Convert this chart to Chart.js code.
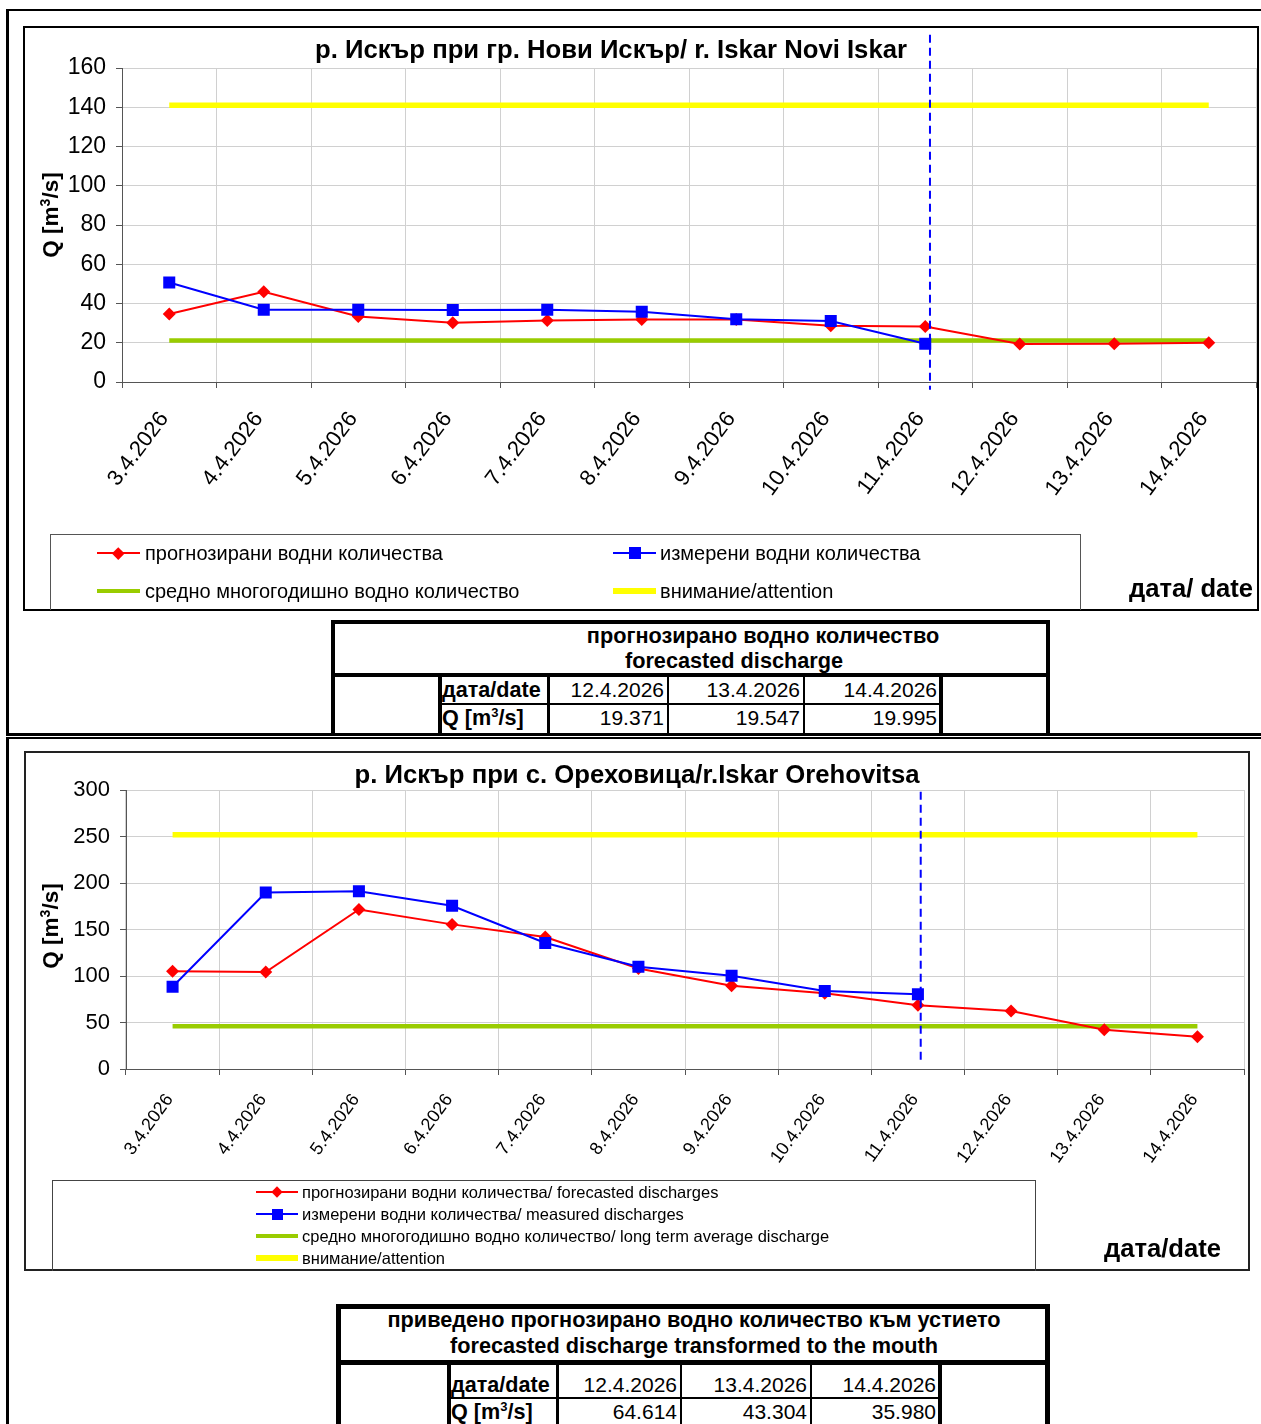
<!DOCTYPE html>
<html lang="bg">
<head>
<meta charset="utf-8">
<title>р. Искър</title>
<script src="https://cdn.jsdelivr.net/npm/chart.js@4.4.1/dist/chart.umd.min.js"></script>
<style>
  html, body { margin: 0; padding: 0; background: #fff; }
  body { width: 1261px; height: 1424px; overflow: hidden; position: relative;
         font-family: "Liberation Sans", Arial, sans-serif; color: #000; }
  .abs { position: absolute; box-sizing: border-box; }
  canvas.abs { display: block; }
  .title { font-weight: bold; font-size: 25.7px; line-height: 30px; white-space: nowrap; text-align: center; }
  .dateLbl { font-weight: bold; font-size: 25.6px; line-height: 30px; white-space: nowrap; }
  .ytitle { font-weight: bold; font-size: 22.5px; line-height: 30px; white-space: nowrap; text-align: center;
            width: 200px; height: 30px; transform: rotate(-90deg); }
  .ytitle sup { font-size: 14px; line-height: 0; }
  .cell { white-space: nowrap; font-size: 21px; line-height: 26px; }
  .hdr { font-weight: bold; font-size: 21.7px; line-height: 26px; white-space: nowrap; text-align: center; }
</style>
</head>
<body>

<!-- section frames -->
<div class="abs" style="left:6px;top:9px;width:1300px;height:727px;border-left:3px solid #000;border-top:2px solid #000;border-bottom:3px solid #000;"></div>
<div class="abs" style="left:6px;top:737px;width:1300px;height:800px;border-left:3px solid #000;border-top:2px solid #000;"></div>

<!-- top chart -->
<div class="abs" style="left:23px;top:26px;width:1236px;height:585px;border:2px solid #000;"></div>
<canvas id="chartNovi" class="abs" width="1232" height="581" style="left:25px;top:28px;width:1232px;height:581px;"></canvas>
<div class="abs title" style="left:261px;top:34px;width:700px;">р. Искър при гр. Нови Искър/ r. Iskar Novi Iskar</div>
<div class="abs ytitle" style="left:-49px;top:200px;">Q [m<sup>3</sup>/s]</div>
<div class="abs" id="legendNovi" style="left:50px;top:534px;width:1031px;height:76px;border:1px solid #555;border-bottom:none;"></div>
<div class="abs dateLbl" style="left:1129px;top:573px;">дата/ date</div>

<!-- bottom chart -->
<div class="abs" style="left:24px;top:751px;width:1226px;height:520px;border:2px solid #222;"></div>
<canvas id="chartOreh" class="abs" width="1222" height="516" style="left:26px;top:753px;width:1222px;height:516px;"></canvas>
<div class="abs title" style="left:287px;top:759px;width:700px;">р. Искър при с. Ореховица/r.Iskar Orehovitsa</div>
<div class="abs ytitle" style="left:-49px;top:911px;">Q [m<sup>3</sup>/s]</div>
<div class="abs" id="legendOreh" style="left:52px;top:1180px;width:984px;height:91px;border:1px solid #444;border-bottom:none;"></div>
<div class="abs dateLbl" style="left:1104px;top:1233px;">дата/date</div>

<script>
// ---- data ----
const dates = ['3.4.2026', '4.4.2026', '5.4.2026', '6.4.2026', '7.4.2026', '8.4.2026',
               '9.4.2026', '10.4.2026', '11.4.2026', '12.4.2026', '13.4.2026', '14.4.2026'];

// р. Искър при гр. Нови Искър
const noviForecast  = [34.6, 46.0, 33.4, 30.2, 31.4, 31.9, 31.8, 28.6, 28.3, 19.371, 19.547, 19.995];
const noviMeasured  = [50.7, 36.8, 36.8, 36.7, 36.8, 35.8, 32.0, 31.1, 19.5, null, null, null];
const noviAverage   = [21.2, 21.2, 21.2, 21.2, 21.2, 21.2, 21.2, 21.2, 21.2, 21.2, 21.2, 21.2];
const noviAttention = [141, 141, 141, 141, 141, 141, 141, 141, 141, 141, 141, 141];
const noviYMax = 160, noviYStep = 20;

// р. Искър при с. Ореховица
const orehForecast  = [105.0, 104.3, 171.5, 155.5, 142.0, 108.0, 89.5, 81.5, 68.5, 62.3, 42.2, 34.7];
const orehMeasured  = [88.5, 189.8, 191.2, 175.5, 135.5, 110.0, 100.2, 83.8, 80.3, null, null, null];
const orehAverage   = [46, 46, 46, 46, 46, 46, 46, 46, 46, 46, 46, 46];
const orehAttention = [252, 252, 252, 252, 252, 252, 252, 252, 252, 252, 252, 252];
const orehYMax = 300, orehYStep = 50;

const noviLabels = ['прогнозирани водни количества', 'измерени водни количества',
                    'средно многогодишно водно количество', 'внимание/attention'];
const orehLabels = ['прогнозирани водни количества/ forecasted discharges',
                    'измерени водни количества/ measured discharges',
                    'средно многогодишно водно количество/ long term average discharge',
                    'внимание/attention'];

// forecast tables
const tableDates = ['12.4.2026', '13.4.2026', '14.4.2026'];
const noviTableQ = [19.371, 19.547, 19.995];
const orehTableQ = [64.614, 43.304, 35.980];

// position of the "today" dashed line (category index) and its vertical extent (in y units)
const noviNow = { at: 8.05, from: 177, to: -4 };
const orehNow = { at: 8.03, from: 298, to: 10 };

// ---- charts ----
Chart.defaults.font.family = '"Liberation Sans", Arial, sans-serif';
Chart.defaults.color = '#000';

const nowLine = {
  id: 'nowLine',
  afterDatasetsDraw(chart, args, opts) {
    const x = chart.scales.x.getPixelForValue(opts.at);
    const y1 = chart.scales.y.getPixelForValue(opts.from);
    const y2 = chart.scales.y.getPixelForValue(opts.to);
    const ctx = chart.ctx;
    ctx.save();
    ctx.strokeStyle = '#0000ff';
    ctx.lineWidth = 2;
    ctx.setLineDash([8, 5]);
    ctx.beginPath();
    ctx.moveTo(x, y1);
    ctx.lineTo(x, y2);
    ctx.stroke();
    ctx.restore();
  }
};

function makeDatasets(labels, forecast, measured, average, attention, s) {
  return [
    { label: labels[0], data: forecast, borderColor: '#ff0000', backgroundColor: '#ff0000',
      borderWidth: 2, pointStyle: 'rectRot', pointRadius: s.diamond, pointBorderWidth: 0, order: 1 },
    { label: labels[1], data: measured, borderColor: '#0000ff', backgroundColor: '#0000ff',
      borderWidth: 2, pointStyle: 'rect', pointRadius: s.square, pointBorderWidth: 0, order: 0 },
    { label: labels[2], data: average, borderColor: '#99cc00', backgroundColor: '#99cc00',
      borderWidth: s.green, pointRadius: 0, order: 2 },
    { label: labels[3], data: attention, borderColor: '#ffff00', backgroundColor: '#ffff00',
      borderWidth: s.yellow, pointRadius: 0, order: 3 }
  ];
}

function makeChart(id, datasets, s) {
  return new Chart(document.getElementById(id), {
    type: 'line',
    data: { labels: dates, datasets: datasets },
    options: {
      responsive: false,
      animation: false,
      events: [],
      layout: { autoPadding: false, padding: { top: s.padTop, right: s.padRight, left: 0, bottom: 0 } },
      elements: { line: { tension: 0 } },
      plugins: {
        legend: { display: false },
        tooltip: { enabled: false },
        nowLine: s.now
      },
      scales: {
        x: {
          offset: true,
          grid: { offset: true, color: '#d0d0d0', tickColor: '#555', tickLength: 6 },
          border: { color: '#555' },
          ticks: { font: { size: s.xFont }, color: '#000', minRotation: s.rot, maxRotation: s.rot,
                   autoSkip: false, padding: s.xPad, labelOffset: s.xShift },
          afterFit: (scale) => {
            scale.height = s.xHeight;
            scale.paddingLeft = 0;
            scale.paddingRight = 0;
          }
        },
        y: {
          min: 0, max: s.yMax,
          grid: { color: '#d0d0d0', tickColor: '#555', tickLength: 6 },
          border: { color: '#555' },
          ticks: { stepSize: s.yStep, font: { size: s.yFont }, color: '#000', padding: 10 },
          afterFit: (scale) => { scale.width = s.yWidth; }
        }
      }
    },
    plugins: [nowLine]
  });
}

const noviStyle = { diamond: 6.5, square: 8.5, green: 4.5, yellow: 5.5, padTop: 40, padRight: 1,
  xFont: 22, rot: 53, xPad: 19, xShift: -5, xHeight: 227, yMax: noviYMax, yStep: noviYStep, yFont: 23,
  yWidth: 97, now: noviNow };
const orehStyle = { diamond: 6.5, square: 8.5, green: 4.5, yellow: 5.5, padTop: 37, padRight: 4,
  xFont: 18, rot: 54, xPad: 15, xShift: -3, xHeight: 200, yMax: orehYMax, yStep: orehYStep, yFont: 22,
  yWidth: 100, now: orehNow };

const noviChart = makeChart('chartNovi',
  makeDatasets(noviLabels, noviForecast, noviMeasured, noviAverage, noviAttention, noviStyle), noviStyle);
const orehChart = makeChart('chartOreh',
  makeDatasets(orehLabels, orehForecast, orehMeasured, orehAverage, orehAttention, orehStyle), orehStyle);

// ---- html legends built from the chart datasets ----
function el(parent, css, text, cls) {
  const d = document.createElement('div');
  d.className = 'abs' + (cls ? ' ' + cls : '');
  d.style.cssText += css;
  if (text !== undefined) d.textContent = text;
  parent.appendChild(d);
  return d;
}

function buildLegend(chart, places, opt) {
  const body = document.body;
  chart.data.datasets.forEach((ds, i) => {
    const p = places[i];
    const lw = ds.borderWidth;
    el(body, `left:${p.x}px;top:${p.y - lw / 2}px;width:${opt.sampleW}px;height:${lw}px;background:${ds.borderColor};`);
    if (ds.pointRadius > 0) {
      const cx = p.x + opt.sampleW / 2;
      const sz = ds.pointStyle === 'rectRot' ? opt.diamond : opt.square;
      el(body, `left:${cx - sz / 2}px;top:${p.y - sz / 2}px;width:${sz}px;height:${sz}px;background:${ds.backgroundColor};` +
        (ds.pointStyle === 'rectRot' ? 'transform:rotate(45deg);' : ''));
    }
    el(body, `left:${p.tx}px;top:${p.y - 15}px;height:30px;line-height:30px;font-size:${opt.font}px;white-space:nowrap;`, ds.label);
  });
}

buildLegend(noviChart, [
  { x: 97, y: 553, tx: 145 }, { x: 613, y: 553, tx: 660 },
  { x: 97, y: 591, tx: 145 }, { x: 613, y: 591, tx: 660 }
], { sampleW: 43, diamond: 8.5, square: 12, font: 20 });

buildLegend(orehChart, [
  { x: 256, y: 1191.5, tx: 302 }, { x: 256, y: 1214, tx: 302 },
  { x: 256, y: 1236, tx: 302 }, { x: 256, y: 1258, tx: 302 }
], { sampleW: 42, diamond: 8, square: 11, font: 16.5 });

// ---- forecast tables ----
function buildTable(L) {
  const b = document.body;
  const h = L.y3 - L.y1;
  // outer frame and header separator
  el(b, `left:${L.x0}px;top:${L.y0}px;width:${L.x1 - L.x0}px;height:${L.y3 - L.y0}px;border:${L.outer}px solid #000;` +
    (L.open ? 'border-bottom:none;' : ''));
  el(b, `left:${L.x0}px;top:${L.y1 - L.outer / 2}px;width:${L.x1 - L.x0}px;height:${L.outer}px;background:#000;`);
  L.head.forEach((hd, i) => {
    el(b, `left:${hd.cx - 350}px;top:${L.headY[i] - 13}px;width:700px;`, hd.text, 'hdr');
  });
  // inner block
  const c = L.cols;
  el(b, `left:${c[0] - 2}px;top:${L.y1}px;width:4px;height:${h}px;background:#000;`);
  el(b, `left:${c[4] - 2}px;top:${L.y1}px;width:4px;height:${h}px;background:#000;`);
  for (let k = 1; k < 4; k++) {
    el(b, `left:${c[k] - 1}px;top:${L.y1}px;width:${k === 1 ? 3 : 2}px;height:${h}px;background:#000;`);
  }
  el(b, `left:${c[0]}px;top:${L.y2 - 1}px;width:${c[4] - c[0]}px;height:2px;background:#000;`);
  el(b, `left:${c[0] + 2}px;top:${L.r1 - 13}px;font-weight:bold;font-size:21.6px;`, 'дата/date', 'cell');
  const q = el(b, `left:${c[0] + 2}px;top:${L.r2 - 13}px;font-weight:bold;font-size:21.6px;`, 'Q [m', 'cell');
  const sup = document.createElement('sup');
  sup.textContent = '3';
  sup.style.cssText = 'font-size:13px;line-height:0;';
  q.appendChild(sup);
  q.appendChild(document.createTextNode('/s]'));
  tableDates.forEach((d, i) => {
    el(b, `left:${c[i + 1]}px;top:${L.r1 - 13}px;width:${c[i + 2] - c[i + 1] - 4}px;text-align:right;`, d, 'cell');
    el(b, `left:${c[i + 1]}px;top:${L.r2 - 13}px;width:${c[i + 2] - c[i + 1] - 4}px;text-align:right;`,
      L.values[i].toFixed(3), 'cell');
  });
}

buildTable({
  x0: 331, x1: 1050, y0: 620, y1: 675, y2: 704, y3: 735, outer: 4, open: true,
  head: [{ text: 'прогнозирано водно количество', cx: 763 }, { text: 'forecasted discharge', cx: 734 }],
  headY: [636, 661],
  cols: [440, 548, 668, 804, 941], r1: 690, r2: 718,
  values: noviTableQ
});

buildTable({
  x0: 336, x1: 1050, y0: 1304, y1: 1362, y2: 1398, y3: 1440, outer: 5, open: true,
  head: [{ text: 'приведено прогнозирано водно количество към устието', cx: 694 },
         { text: 'forecasted discharge transformed to the mouth', cx: 694 }],
  headY: [1320, 1346],
  cols: [449, 557, 681, 811, 940], r1: 1385, r2: 1412,
  values: orehTableQ
});
</script>
</body>
</html>
